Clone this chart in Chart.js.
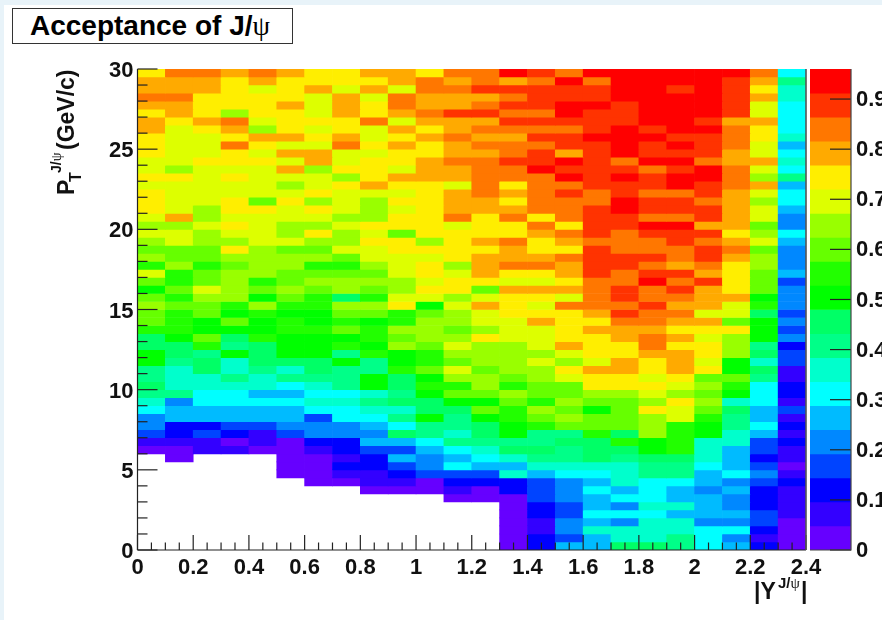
<!DOCTYPE html>
<html>
<head>
<meta charset="utf-8">
<script src="https://cdn.jsdelivr.net/npm/chart.js@4"></script>
<style>
body{margin:0;background:#e8f3f9;width:882px;height:620px;overflow:hidden;font-family:"Liberation Sans",Arial,sans-serif;}
#panel{position:absolute;left:4px;top:5px;right:0;bottom:0;background:#fff;}
canvas{position:absolute;top:0;filter:blur(0.35px);}
#heat{left:0;}
#pal{left:806px;}
#title{position:absolute;left:12px;top:7.5px;width:279px;height:34px;border:1.5px solid #333;background:#fff;font-weight:bold;font-size:28px;line-height:33px;white-space:nowrap;}
#title span{position:absolute;left:17px;top:0;}
.psi{font-family:"Liberation Serif",serif;font-weight:normal;}
.lab{position:absolute;font-weight:bold;white-space:nowrap;color:#111;}
.lab span{position:absolute;white-space:nowrap;line-height:1;}
#ytitle{left:55px;top:195px;transform:rotate(-90deg);transform-origin:0 0;}
#xtitle{left:754px;top:580px;}
</style>
</head>
<body>
<div id="panel"></div>
<canvas id="heat" width="882" height="620"></canvas>
<canvas id="pal" width="76" height="620"></canvas>
<div id="title"><span>Acceptance of J/<b class="psi">ψ</b></span></div>
<div id="ytitle" class="lab">
	<span style="left:0;top:0;font-size:23px;">P</span>
	<span style="left:13px;top:13px;font-size:16px;">T</span>
	<span style="left:22px;top:-6px;font-size:14px;">J/<b class="psi">ψ</b></span>
	<span style="left:45px;top:0;font-size:23px;">(GeV/c)</span>
</div>
<div id="xtitle" class="lab">
	<span style="left:0;top:0;font-size:23px;">|Y</span>
	<span style="left:24px;top:-5px;font-size:15px;">J/<b class="psi">ψ</b></span>
	<span style="left:47px;top:0;font-size:23px;">|</span>
</div>
<script>
// acceptance per bin. one array per pt row, columns are |y| 0..2.4
var r59=[.74,.84,.84,.79,.84,.79,.74,.74,.79,.79,.74,.84,.84,.94,.89,.84,.94,.94,.94,.94,.94,.94,.84,.31];
var r58=[.79,.79,.79,.74,.79,.74,.74,.74,.74,.79,.84,.79,.84,.79,.84,.94,.84,.94,.94,.94,.94,.89,.79,.41];
var r57=[.79,.79,.79,.74,.70,.74,.79,.70,.79,.70,.84,.84,.89,.89,.89,.89,.89,.94,.94,.89,.94,.89,.74,.36];
var r56=[.84,.84,.74,.74,.74,.74,.70,.79,.70,.84,.79,.79,.79,.84,.89,.89,.89,.94,.94,.94,.94,.89,.79,.36];
var r55=[.79,.79,.74,.74,.74,.79,.70,.79,.74,.84,.79,.79,.84,.89,.89,.94,.94,.89,.94,.94,.94,.89,.70,.31];
var r54=[.74,.79,.74,.65,.74,.74,.70,.79,.74,.79,.84,.89,.89,.84,.84,.94,.89,.89,.94,.94,.94,.89,.70,.31];
var r53=[.79,.74,.79,.84,.70,.74,.74,.74,.84,.70,.79,.79,.79,.89,.89,.89,.89,.89,.94,.94,.89,.79,.79,.31];
var r52=[.79,.70,.74,.79,.65,.74,.70,.74,.70,.79,.74,.79,.84,.84,.84,.84,.89,.94,.89,.94,.94,.84,.74,.31];
var r51=[.74,.70,.70,.74,.79,.79,.74,.79,.70,.74,.79,.84,.79,.79,.89,.89,.94,.94,.94,.89,.89,.84,.74,.36];
var r50=[.74,.70,.70,.84,.74,.70,.70,.84,.74,.79,.74,.79,.84,.84,.84,.89,.89,.94,.89,.94,.89,.84,.70,.26];
var r49=[.74,.70,.70,.74,.70,.79,.79,.70,.70,.74,.74,.79,.79,.84,.89,.79,.89,.94,.89,.89,.89,.79,.70,.31];
var r48=[.70,.70,.74,.74,.74,.70,.79,.70,.74,.74,.79,.84,.84,.89,.89,.94,.89,.84,.94,.94,.84,.79,.79,.36];
var r47=[.70,.65,.70,.70,.70,.79,.65,.74,.74,.70,.79,.79,.84,.84,.94,.89,.89,.89,.84,.89,.94,.84,.70,.31];
var r46=[.74,.74,.70,.74,.70,.70,.70,.65,.74,.79,.79,.79,.84,.84,.84,.94,.89,.94,.89,.94,.94,.84,.65,.41];
var r45=[.70,.70,.70,.70,.70,.65,.70,.74,.79,.74,.74,.70,.84,.74,.84,.84,.89,.89,.89,.94,.89,.84,.79,.26];
var r44=[.74,.70,.70,.70,.70,.70,.74,.70,.70,.70,.74,.79,.84,.79,.84,.89,.84,.89,.84,.84,.89,.79,.70,.31];
var r43=[.74,.70,.70,.74,.60,.74,.65,.70,.65,.74,.74,.79,.79,.74,.84,.84,.84,.94,.89,.89,.84,.79,.65,.31];
var r42=[.74,.70,.65,.74,.74,.70,.74,.70,.65,.70,.74,.79,.79,.79,.84,.84,.89,.94,.89,.89,.89,.79,.70,.26];
var r41=[.70,.79,.65,.70,.70,.70,.70,.65,.65,.74,.74,.84,.74,.84,.74,.84,.89,.89,.84,.84,.89,.79,.70,.22];
var r40=[.65,.65,.70,.74,.70,.65,.65,.70,.74,.74,.74,.70,.74,.74,.84,.74,.89,.89,.94,.94,.79,.79,.60,.22];
var r39=[.70,.70,.65,.70,.70,.65,.74,.65,.70,.60,.74,.74,.74,.74,.79,.84,.89,.84,.89,.89,.89,.74,.65,.31];
var r38=[.65,.70,.65,.65,.70,.70,.65,.65,.74,.74,.65,.74,.79,.84,.74,.79,.84,.84,.84,.89,.84,.79,.70,.26];
var r37=[.60,.60,.60,.74,.65,.60,.60,.70,.70,.74,.74,.74,.74,.79,.74,.74,.89,.84,.84,.84,.89,.84,.60,.22];
var r36=[.65,.60,.60,.65,.65,.65,.65,.60,.70,.70,.70,.74,.79,.79,.79,.84,.89,.89,.89,.84,.89,.79,.65,.22];
var r35=[.55,.65,.55,.60,.65,.65,.55,.55,.65,.70,.74,.65,.79,.84,.84,.79,.89,.89,.84,.79,.84,.74,.65,.22];
var r34=[.70,.55,.60,.65,.65,.60,.60,.60,.60,.70,.74,.70,.79,.74,.74,.79,.89,.84,.89,.89,.79,.74,.60,.26];
var r33=[.60,.55,.60,.65,.55,.60,.65,.65,.65,.65,.70,.74,.74,.70,.70,.74,.84,.84,.94,.84,.89,.74,.60,.17];
var r32=[.50,.60,.70,.65,.60,.65,.60,.65,.60,.65,.74,.74,.60,.79,.79,.79,.84,.89,.84,.89,.79,.74,.60,.22];
var r31=[.60,.55,.65,.65,.50,.60,.55,.46,.55,.70,.70,.65,.70,.74,.74,.70,.84,.89,.84,.84,.79,.79,.50,.22];
var r30=[.65,.60,.60,.55,.65,.55,.55,.65,.65,.74,.50,.70,.79,.74,.70,.84,.84,.84,.89,.79,.79,.70,.55,.22];
var r29=[.60,.55,.60,.50,.55,.50,.50,.60,.60,.55,.60,.65,.70,.74,.74,.74,.79,.89,.84,.84,.70,.70,.46,.17];
var r28=[.60,.55,.50,.60,.50,.55,.50,.55,.50,.55,.65,.65,.70,.70,.79,.74,.74,.84,.84,.79,.79,.60,.50,.22];
var r27=[.55,.55,.50,.50,.50,.55,.55,.60,.55,.65,.65,.60,.65,.70,.70,.74,.79,.79,.79,.74,.74,.74,.50,.17];
var r26=[.46,.50,.60,.46,.55,.50,.50,.50,.55,.60,.65,.65,.74,.70,.70,.74,.74,.79,.84,.79,.70,.65,.50,.22];
var r25=[.46,.46,.55,.41,.46,.50,.50,.55,.50,.65,.60,.70,.65,.65,.70,.79,.74,.74,.84,.74,.74,.65,.41,.12];
var r24=[.50,.46,.41,.50,.46,.50,.50,.41,.55,.50,.55,.65,.65,.65,.65,.70,.74,.74,.79,.79,.74,.65,.46,.17];
var r23=[.50,.41,.46,.36,.46,.46,.46,.50,.41,.50,.55,.60,.65,.65,.70,.65,.70,.79,.74,.79,.70,.50,.36,.17];
var r22=[.41,.36,.46,.36,.41,.36,.46,.41,.41,.55,.60,.70,.60,.65,.65,.74,.79,.79,.74,.79,.74,.50,.46,.07];
var r21=[.41,.36,.36,.41,.36,.41,.41,.41,.50,.46,.50,.65,.65,.60,.65,.70,.74,.74,.70,.74,.60,.60,.41,.07];
var r20=[.46,.36,.36,.36,.36,.31,.36,.41,.50,.46,.55,.55,.65,.55,.60,.60,.74,.74,.74,.70,.65,.55,.31,.12];
var r19=[.41,.41,.31,.31,.26,.26,.31,.31,.36,.41,.50,.60,.60,.65,.60,.60,.65,.65,.70,.65,.60,.50,.31,.12];
var r18=[.36,.22,.31,.31,.31,.31,.36,.36,.41,.46,.46,.50,.50,.60,.55,.65,.60,.60,.65,.74,.65,.36,.31,.07];
var r17=[.31,.26,.26,.26,.26,.26,.31,.31,.36,.36,.46,.46,.60,.55,.65,.60,.50,.60,.74,.70,.60,.46,.26,.17];
var r16=[.22,.26,.26,.26,.26,.26,.17,.31,.31,.41,.50,.41,.50,.55,.60,.65,.60,.60,.65,.70,.55,.41,.26,.07];
var r15=[.22,.12,.12,.17,.17,.22,.22,.22,.26,.31,.41,.41,.46,.50,.55,.60,.60,.60,.65,.55,.50,.41,.31,.12];
var r14=[.17,.12,.17,.12,.07,.17,.22,.22,.22,.46,.41,.36,.46,.50,.41,.41,.55,.46,.65,.55,.50,.36,.26,.07];
var r13=[.07,.07,.07,.02,.07,.02,.12,.12,.26,.26,.31,.41,.41,.41,.41,.46,.46,.55,.50,.55,.36,.36,.17,.12];
var r12=[.02,.02,.07,.07,.02,.02,.07,.12,.17,.17,.26,.31,.36,.46,.46,.41,.46,.46,.50,.55,.36,.26,.17,.07];
var r11=[null,.02,null,null,null,.02,.02,.07,.12,.26,.22,.26,.31,.36,.41,.41,.46,.41,.46,.46,.36,.26,.12,.07];
var r10=[null,null,null,null,null,.02,.02,.12,.12,.17,.22,.31,.26,.26,.36,.36,.36,.36,.41,.41,.31,.26,.17,.02];
var r09=[null,null,null,null,null,.02,.02,.07,.07,.12,.17,.17,.17,.36,.26,.31,.31,.36,.41,.41,.26,.31,.22,.07];
var r08=[null,null,null,null,null,null,.02,.02,.07,.07,.02,.12,.12,.12,.17,.22,.26,.36,.31,.31,.26,.22,.17,.12];
var r07=[null,null,null,null,null,null,null,null,.02,.02,.02,.07,.02,.12,.17,.22,.31,.26,.31,.26,.22,.26,.12,.07];
var r06=[null,null,null,null,null,null,null,null,null,null,null,.02,.02,.02,.17,.22,.26,.31,.31,.26,.26,.22,.12,.07];
var r05=[null,null,null,null,null,null,null,null,null,null,null,null,null,.02,.12,.17,.26,.22,.36,.36,.26,.22,.12,.07];
var r04=[null,null,null,null,null,null,null,null,null,null,null,null,null,.02,.12,.17,.31,.31,.31,.26,.26,.26,.17,.07];
var r03=[null,null,null,null,null,null,null,null,null,null,null,null,null,.02,.07,.22,.26,.22,.36,.36,.22,.22,.17,.02];
var r02=[null,null,null,null,null,null,null,null,null,null,null,null,null,.02,.07,.22,.36,.36,.36,.36,.31,.31,.12,.02];
var r01=[null,null,null,null,null,null,null,null,null,null,null,null,null,.02,.12,.17,.26,.36,.36,.41,.31,.22,.07,.02];
var r00=[null,null,null,null,null,null,null,null,null,null,null,null,null,.02,.12,.26,.26,.46,.46,.41,.31,.26,.12,.02];
var rows=[r00,r01,r02,r03,r04,r05,r06,r07,r08,r09,r10,r11,r12,r13,r14,r15,r16,r17,r18,r19,r20,r21,r22,r23,r24,r25,r26,r27,r28,r29,r30,r31,r32,r33,r34,r35,r36,r37,r38,r39,r40,r41,r42,r43,r44,r45,r46,r47,r48,r49,r50,r51,r52,r53,r54,r55,r56,r57,r58,r59];

var yBin=[.05,.15,.25,.35,.45,.55,.65,.75,.85,.95,1.05,1.15,1.25,1.35,1.45,1.55,1.65,1.75,1.85,1.95,2.05,2.15,2.25,2.35];
var ptWidth=0.5;
var xMajor=[0,0.2,0.4,0.6,0.8,1,1.2,1.4,1.6,1.8,2,2.2,2.4];
var xMinor=[0.05,0.1,0.15,0.25,0.3,0.35,0.45,0.5,0.55,0.65,0.7,0.75,0.85,0.9,0.95,1.05,1.1,1.15,1.25,1.3,1.35,1.45,1.5,1.55,1.65,1.7,1.75,1.85,1.9,1.95,2.05,2.1,2.15,2.25,2.3,2.35];
var yMajor=[0,5,10,15,20,25,30];
var yMinor=[1,2,3,4,6,7,8,9,11,12,13,14,16,17,18,19,21,22,23,24,26,27,28,29];
var zTicks=[0,0.1,0.2,0.3,0.4,0.5,0.6,0.7,0.8,0.9];
var zStep=0.048;
var zMax=0.96;
var colors=['#6600ff','#3300ff','#0000ff','#0044ff','#0088ff','#00bbff','#00ffff','#00ffcc','#00ff88','#00ff66','#00ff00','#22ff00','#66ff00','#99ff00','#ddff00','#ffee00','#ffaa00','#ff7700','#ff3300','#ff0000'];

var labelFont={family:'"Liberation Sans",Arial,sans-serif',size:22,weight:'bold'};
Chart.defaults.color='#111';

function colorOf(v){
	var k=Math.floor(v/zStep);
	if(k>19) k=19;
	return colors[k];
}

var cells=[];var cellColors=[];
for(var i=0;i<rows.length;i++){
	for(var j=0;j<yBin.length;j++){
		if(rows[i][j]===null) continue;
		cells.push({x:yBin[j],y:[i*ptWidth,(i+1)*ptWidth]});
		cellColors.push(colorOf(rows[i][j]));
	}
}

// ROOT style frame with the ticks pointing inside
var heatTicks={
	id:'heatTicks',
	afterDatasetsDraw:function(chart){
		var c=chart.ctx,a=chart.chartArea,sx=chart.scales.x,sy=chart.scales.y;
		c.save();
		c.strokeStyle='#222';
		c.lineWidth=1.2;
		function line(x1,y1,x2,y2){c.beginPath();c.moveTo(x1,y1);c.lineTo(x2,y2);c.stroke();}
		xMajor.forEach(function(v){var p=sx.getPixelForValue(v);line(p,a.bottom,p,a.bottom-15);});
		xMinor.forEach(function(v){var p=sx.getPixelForValue(v);line(p,a.bottom,p,a.bottom-7.5);});
		yMajor.forEach(function(v){var p=sy.getPixelForValue(v);line(a.left,p,a.left+20,p);});
		yMinor.forEach(function(v){var p=sy.getPixelForValue(v);line(a.left,p,a.left+10,p);});
		line(a.left,a.top,a.left,a.bottom);
		line(a.left,a.bottom,a.right,a.bottom);
		c.strokeStyle='#555';
		c.lineWidth=1.6;
		line(a.right,a.top,a.right,a.bottom);
		c.restore();
	}
};

new Chart(document.getElementById('heat'),{
	type:'bar',
	data:{datasets:[{data:cells,backgroundColor:cellColors,borderWidth:0,barPercentage:1,categoryPercentage:1,grouped:false}]},
	plugins:[heatTicks],
	options:{
		responsive:false,
		animation:false,
		layout:{padding:{left:87.5,right:76,top:69,bottom:40}},
		plugins:{legend:{display:false},tooltip:{enabled:false}},
		scales:{
			x:{
				type:'linear',min:0,max:2.4,offset:false,
				grid:{display:false,offset:false,drawTicks:false},border:{display:false},
				afterFit:function(s){s.height=30;},
				ticks:{stepSize:0.2,autoSkip:false,maxRotation:0,font:labelFont,padding:5,
					callback:function(v){return String(+v.toFixed(1));}}
			},
			y:{
				type:'linear',min:0,max:30,
				grid:{display:false,drawTicks:false},border:{display:false},
				afterFit:function(s){s.width=50;},
				ticks:{stepSize:5,autoSkip:false,font:labelFont,padding:4,labelOffset:2}
			}
		}
	}
});

var palCells=[];
for(var k=0;k<colors.length;k++){
	palCells.push({x:0.5,y:[k*zStep,(k+1)*zStep]});
}
var palTicks={
	id:'palTicks',
	afterDatasetsDraw:function(chart){
		var c=chart.ctx,a=chart.chartArea,sz=chart.scales.y;
		c.save();
		c.strokeStyle='#222';
		c.lineWidth=1.2;
		zTicks.forEach(function(v){
			var p=sz.getPixelForValue(v);
			c.beginPath();c.moveTo(a.right-21,p);c.lineTo(a.right,p);c.stroke();
		});
		c.strokeStyle='#444';
		c.beginPath();c.moveTo(a.right,a.top);c.lineTo(a.right,a.bottom);c.lineTo(a.left,a.bottom);c.stroke();
		c.restore();
	}
};
new Chart(document.getElementById('pal'),{
	type:'bar',
	data:{datasets:[{data:palCells,backgroundColor:colors,borderWidth:0,barPercentage:1,categoryPercentage:1,grouped:false}]},
	plugins:[palTicks],
	options:{
		responsive:false,
		animation:false,
		layout:{padding:{left:4,right:0,top:69,bottom:70}},
		plugins:{legend:{display:false},tooltip:{enabled:false}},
		scales:{
			x:{type:'linear',min:0,max:1,display:false,offset:false,grid:{offset:false}},
			y:{
				type:'linear',position:'right',min:0,max:zMax,
				grid:{display:false,drawTicks:false},border:{display:false},
				afterFit:function(s){s.width=31;},
				ticks:{stepSize:0.1,includeBounds:false,autoSkip:false,font:labelFont,padding:5,labelOffset:1,
					callback:function(v){return String(+v.toFixed(1));}}
			}
		}
	}
});
</script>
</body>
</html>
